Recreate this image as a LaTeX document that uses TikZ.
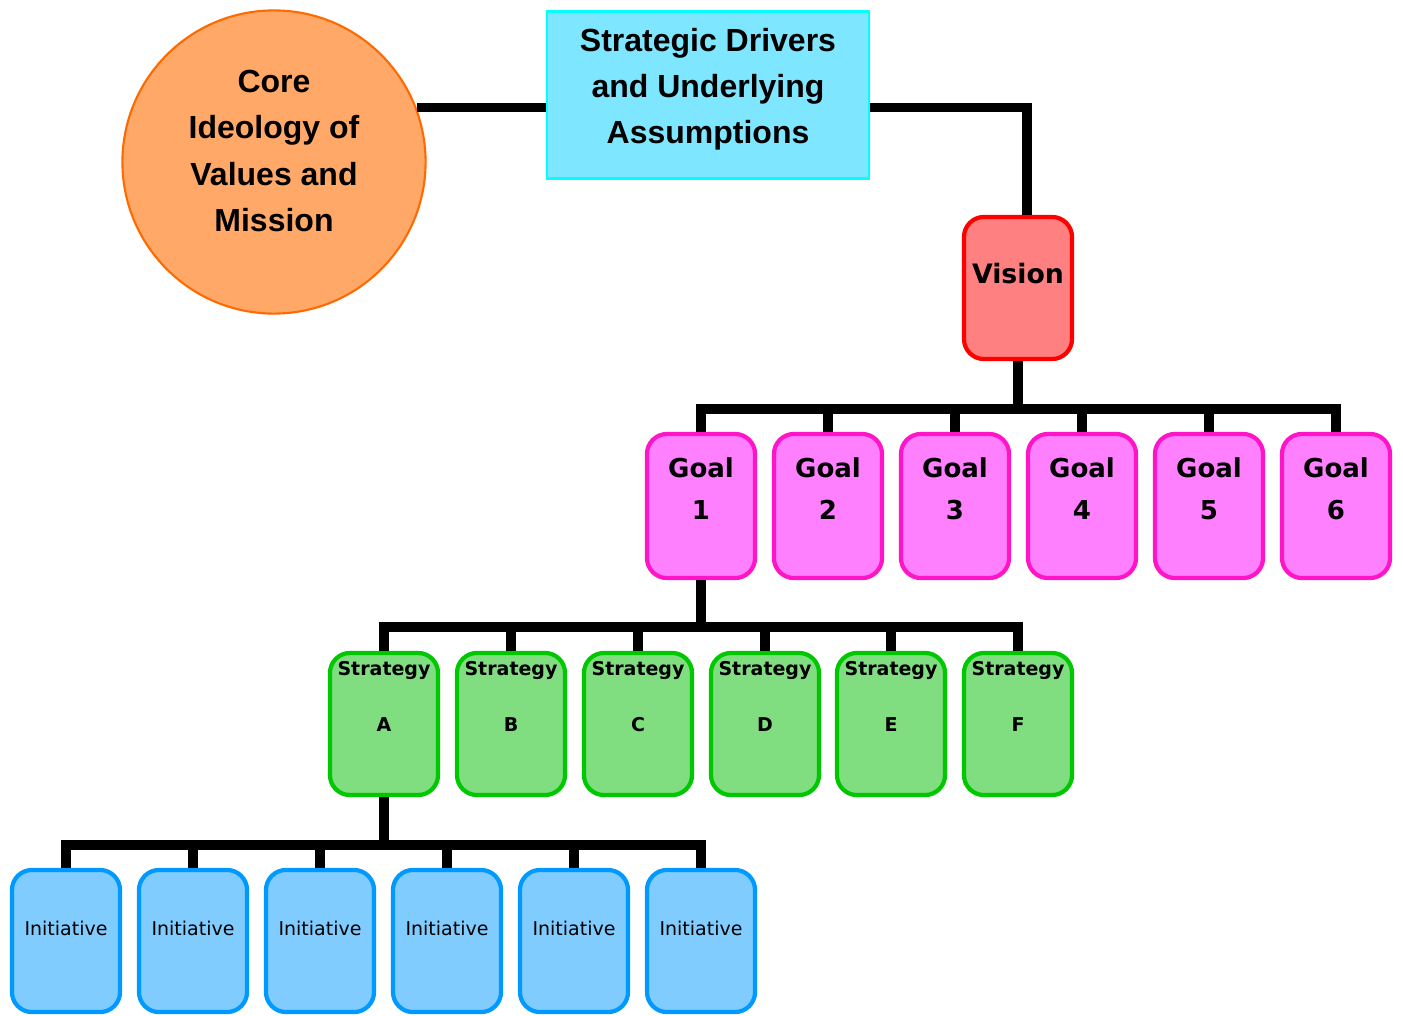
\documentclass[tikz,border=0pt]{standalone}
\usepackage{fontspec}
\setmainfont{Liberation Sans}
\newfontfamily\pixfont{DejaVu Sans}
\usetikzlibrary{calc}

\definecolor{coreorange}{HTML}{FFA868}
\definecolor{coreedge}{HTML}{FF6A00}
\definecolor{drvfill}{HTML}{7FE6FF}
\definecolor{drvedge}{HTML}{00FFFF}
\definecolor{visfill}{HTML}{FF8080}
\definecolor{visedge}{HTML}{FF0000}
\definecolor{goalfill}{HTML}{FF80FF}
\definecolor{goaledge}{HTML}{FF14C8}
\definecolor{stratfill}{HTML}{80DD80}
\definecolor{stratedge}{HTML}{00C800}
\definecolor{initfill}{HTML}{80CCFF}
\definecolor{initedge}{HTML}{0099FF}

\tikzset{
    box/.style={rounded corners=0.2cm, line width=1.2pt, inner sep=0pt,
        minimum width=1.08cm, minimum height=1.42cm},
    visionbox/.style={box, draw=visedge, fill=visfill},
    goalbox/.style={box, draw=goaledge, fill=goalfill, minimum height=1.44cm},
    stratbox/.style={box, draw=stratedge, fill=stratfill},
    initbox/.style={box, draw=initedge, fill=initfill},
    bigtext/.style={align=center, font=\bfseries\fontsize{9.1pt}{13.1pt}\selectfont},
    goaltext/.style={align=center, font=\pixfont\bfseries\fontsize{7.4pt}{12pt}\selectfont},
    strattext/.style={align=center, anchor=north, text depth=0pt,
        font=\pixfont\bfseries\fontsize{5.4pt}{15.9pt}\selectfont},
    inittext/.style={font=\pixfont\fontsize{5.4pt}{7pt}\selectfont},
    link/.style={line width=2.6pt},
}

\begin{document}
\begin{tikzpicture}[x=0.01cm, y=-0.01cm]
    \useasboundingbox (0,0) rectangle (1403,1015);

    % Core ideology
    \node[circle, draw=coreedge, fill=coreorange, line width=0.6pt,
        minimum size=3.03cm, inner sep=0pt] (core) at (274,162) {};
    \node[bigtext] (core-t) at (274,151) {Core\\Ideology of\\Values and\\Mission};

    % Drivers
    \node[draw=drvedge, fill=drvfill, line width=0.6pt, inner sep=0pt,
        minimum width=3.21cm, minimum height=1.67cm] (drivers) at (708,95) {};
    \node[bigtext] (drivers-t) at (708,89) {Strategic Drivers\\and Underlying\\Assumptions};

    % Vision
    \node[visionbox] (vision) at (1018,288) {};
    \node[goaltext, font=\pixfont\bfseries\fontsize{7.6pt}{12pt}\selectfont] (vision-t) at (1018,274) {Vision};

    % Goals
    \foreach \i/\x in {1/701, 2/828, 3/955, 4/1082, 5/1209, 6/1336} {
        \node[goalbox] (goal\i) at (\x,506) {};
        \node[goaltext] (goal\i-t) at (\x,489) {Goal\\\i};
    }

    % Strategies
    \foreach \s/\x in {A/384, B/511, C/638, D/765, E/891, F/1018} {
        \node[stratbox] (strat\s) at (\x,724) {};
        \node[strattext] (strat\s-t) at (\x,649) {Strategy\\\s};
    }

    % Initiatives
    \foreach \i/\x in {1/66, 2/193, 3/320, 4/447, 5/574, 6/701} {
        \node[initbox] (init\i) at (\x,941) {};
        \node[inittext] (init\i-t) at (\x,928) {Initiative};
    }

    % Top links
    \draw[link] (core.21) -- (core.21 -| drivers.west);
    \draw[link] (core.21 -| drivers.east) -| ([xshift=0.09cm]vision.north);

    % Vision to goals
    \coordinate (goalbus) at (0,409);
    \draw[link] (vision.south) -- (vision.south |- goalbus);
    \draw[link] (goal1.north) |- (goalbus -| goal6.north) -- (goal6.north);
    \foreach \i in {2,...,5}
        \draw[link] (goal\i.north |- goalbus) -- (goal\i.north);

    % Goal 1 to strategies
    \coordinate (stratbus) at (0,627);
    \draw[link] (goal1.south) -- (goal1.south |- stratbus);
    \draw[link] (stratA.north) |- (stratbus -| stratF.north) -- (stratF.north);
    \foreach \s in {B,C,D,E}
        \draw[link] (strat\s.north |- stratbus) -- (strat\s.north);

    % Strategy A to initiatives
    \coordinate (initbus) at (0,845);
    \draw[link] (stratA.south) -- (stratA.south |- initbus);
    \draw[link] (init1.north) |- (initbus -| init6.north) -- (init6.north);
    \foreach \i in {2,...,5}
        \draw[link] (init\i.north |- initbus) -- (init\i.north);
\end{tikzpicture}
\end{document}
